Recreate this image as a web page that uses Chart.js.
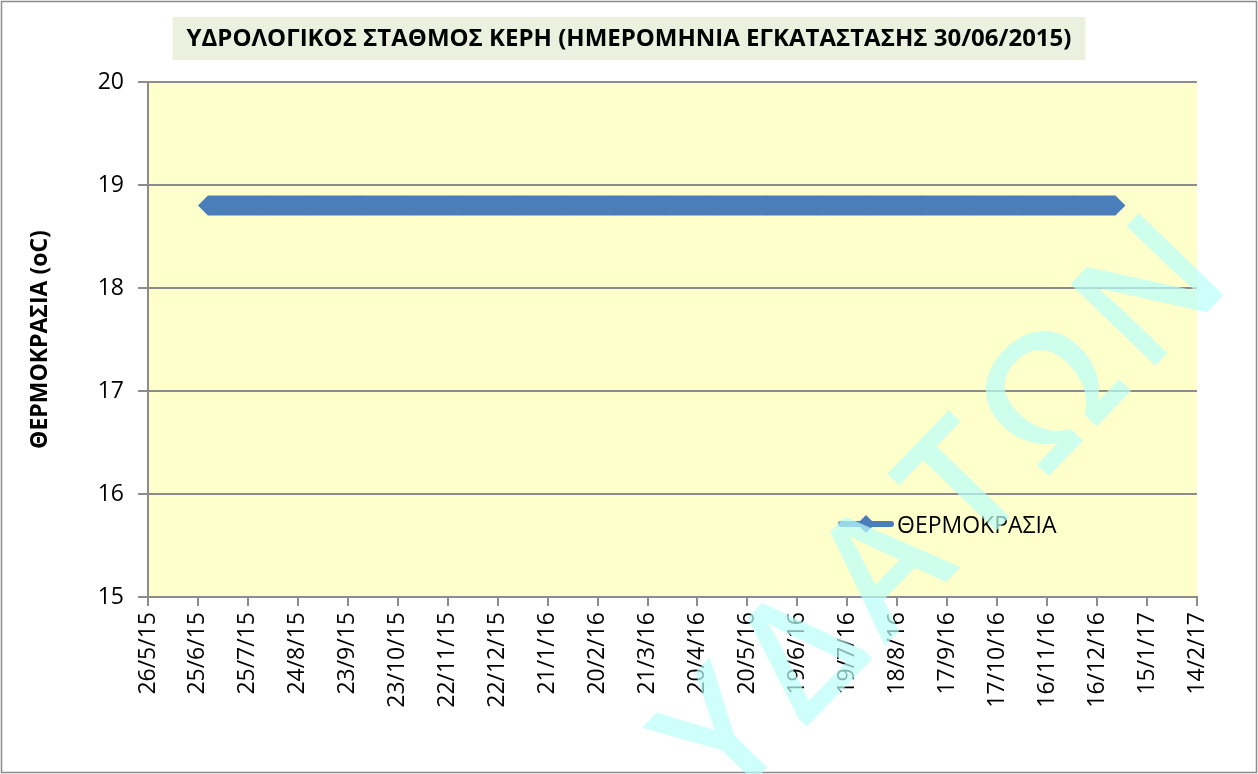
<!DOCTYPE html>
<html lang="el">
<head>
<meta charset="UTF-8" />
<title>Υδρολογικός σταθμός Κερή</title>
<style>
  html, body { margin: 0; padding: 0; background: #fff; }
  #wrap { width: 1258px; height: 774px; }
</style>
</head>
<body>
<div id="wrap"><canvas id="chart" width="1258" height="774"></canvas></div>

<script src="https://cdn.jsdelivr.net/npm/chart.js"></script>
<script>
  // κείμενα
  const chartTitle = 'ΥΔΡΟΛΟΓΙΚΟΣ ΣΤΑΘΜΟΣ ΚΕΡΗ (ΗΜΕΡΟΜΗΝΙΑ ΕΓΚΑΤΑΣΤΑΣΗΣ 30/06/2015)';
  const seriesLabel = 'ΘΕΡΜΟΚΡΑΣΙΑ';
  const yTitle = 'ΘΕΡΜΟΚΡΑΣΙΑ (oC)';
  const watermark = 'ΥΔΑΤΩΝ';

  // άξονας x: ημέρες από 26/5/15, ένα tick κάθε 30 ημέρες
  const axisStart = '2015-05-26';
  const tickStepDays = 30;
  const xTickLabels = ['26/5/15', '25/6/15', '25/7/15', '24/8/15', '23/9/15', '23/10/15',
    '22/11/15', '22/12/15', '21/1/16', '20/2/16', '21/3/16', '20/4/16', '20/5/16',
    '19/6/16', '19/7/16', '18/8/16', '17/9/16', '17/10/16', '16/11/16', '16/12/16',
    '15/1/17', '14/2/17'];

  // μετρήσεις
  const measureDates = ['2015-07-01', '2015-08-01', '2015-09-01', '2015-10-01', '2015-11-01',
    '2015-12-01', '2016-01-01', '2016-02-01', '2016-03-01', '2016-04-01', '2016-05-01',
    '2016-06-01', '2016-07-01', '2016-08-01', '2016-09-01', '2016-10-01', '2016-11-01',
    '2016-12-01', '2016-12-27'];
  const temperature = [18.8, 18.8, 18.8, 18.8, 18.8, 18.8, 18.8, 18.8, 18.8, 18.8,
    18.8, 18.8, 18.8, 18.8, 18.8, 18.8, 18.8, 18.8, 18.8];

  const yMin = 15, yMax = 20;

  const dayOf = s => (Date.parse(s) - Date.parse(axisStart)) / 864e5;
  const points = measureDates.map((d, i) => ({ x: dayOf(d), y: temperature[i] }));
  const lastTick = (xTickLabels.length - 1) * tickStepDays;

  const FONT = "'Open Sans', sans-serif";
  const BLUE = '#4a7ebb';
  const GRID = '#8c8c8c';

  // φόντο, πλαίσιο, τίτλος
  const backdrop = {
    id: 'backdrop',
    beforeDraw(chart) {
      const { ctx, chartArea: a, width, height } = chart;
      ctx.save();
      ctx.fillStyle = '#fff';
      ctx.fillRect(0, 0, width, height);
      ctx.strokeStyle = GRID;
      ctx.lineWidth = 1.5;
      ctx.strokeRect(1.5, 1.5, width - 3, height - 3);
      ctx.fillStyle = '#ffffcc';
      ctx.fillRect(a.left, a.top, a.right - a.left, a.bottom - a.top);

      ctx.font = 'bold 24px ' + FONT;
      const w = ctx.measureText(chartTitle).width;
      const cx = width / 2;
      ctx.fillStyle = '#ebf1de';
      ctx.fillRect(cx - w / 2 - 14, 17, w + 28, 43);
      ctx.fillStyle = '#000';
      ctx.textAlign = 'center';
      ctx.textBaseline = 'middle';
      ctx.fillText(chartTitle, cx, 39);
      ctx.restore();
    }
  };

  // υπόμνημα μέσα στην περιοχή του γραφήματος
  const insideLegend = {
    id: 'insideLegend',
    afterDatasetsDraw(chart) {
      const { ctx } = chart;
      const ds = chart.data.datasets[0];
      const y = 524;
      ctx.save();
      ctx.strokeStyle = ds.borderColor;
      ctx.lineWidth = 6;
      ctx.lineCap = 'round';
      ctx.beginPath();
      ctx.moveTo(841, y);
      ctx.lineTo(891, y);
      ctx.stroke();
      ctx.fillStyle = ds.borderColor;
      ctx.beginPath();
      ctx.moveTo(866, y - 9);
      ctx.lineTo(875, y);
      ctx.lineTo(866, y + 9);
      ctx.lineTo(857, y);
      ctx.closePath();
      ctx.fill();
      ctx.fillStyle = '#000';
      ctx.font = '23px ' + FONT;
      ctx.textBaseline = 'middle';
      ctx.fillText(ds.label, 897, y + 2);
      ctx.restore();
    }
  };

  // υδατόσημο
  const stamp = {
    id: 'stamp',
    afterDraw(chart) {
      const { ctx } = chart;
      ctx.save();
      ctx.translate(1244, 274);
      ctx.rotate(-46 * Math.PI / 180);
      ctx.font = '600 165px ' + FONT;
      ctx.letterSpacing = '14px';
      ctx.textAlign = 'right';
      ctx.textBaseline = 'alphabetic';
      ctx.fillStyle = 'rgba(185, 255, 250, 0.7)';
      ctx.fillText(watermark, 0, 0);
      ctx.restore();
    }
  };

  new Chart(document.getElementById('chart'), {
    type: 'line',
    data: {
      datasets: [{
        label: seriesLabel,
        data: points,
        borderColor: BLUE,
        backgroundColor: BLUE,
        borderWidth: 20,
        pointStyle: 'rectRot',
        pointRadius: 10,
        pointBorderWidth: 0,
        tension: 0
      }]
    },
    options: {
      responsive: false,
      animation: false,
      layout: { padding: { top: 82, right: 61, bottom: 0, left: 0 } },
      plugins: {
        legend: { display: false },
        title: { display: false },
        tooltip: { enabled: false }
      },
      scales: {
        x: {
          type: 'linear',
          min: 0,
          max: lastTick,
          afterFit(scale) { scale.height = 177; },
          grid: { drawOnChartArea: false, color: GRID, lineWidth: 2, tickLength: 9 },
          border: { color: GRID, width: 2 },
          ticks: {
            stepSize: tickStepDays,
            maxTicksLimit: 40,
            autoSkip: false,
            minRotation: 90,
            maxRotation: 90,
            padding: 6,
            color: '#000',
            font: { family: FONT, size: 23 },
            callback: v => xTickLabels[Math.round(v / tickStepDays)]
          }
        },
        y: {
          min: yMin,
          max: yMax,
          afterFit(scale) { scale.width = 148; },
          grid: { color: GRID, lineWidth: 2, tickLength: 10 },
          border: { color: GRID, width: 2 },
          ticks: {
            stepSize: 1,
            padding: 14,
            color: '#000',
            font: { family: FONT, size: 23 }
          },
          title: {
            display: true,
            text: yTitle,
            color: '#000',
            font: { family: FONT, size: 23, weight: 'bold' },
            padding: { top: 27, bottom: 0 }
          }
        }
      }
    },
    plugins: [backdrop, insideLegend, stamp]
  });
</script>
</body>
</html>
